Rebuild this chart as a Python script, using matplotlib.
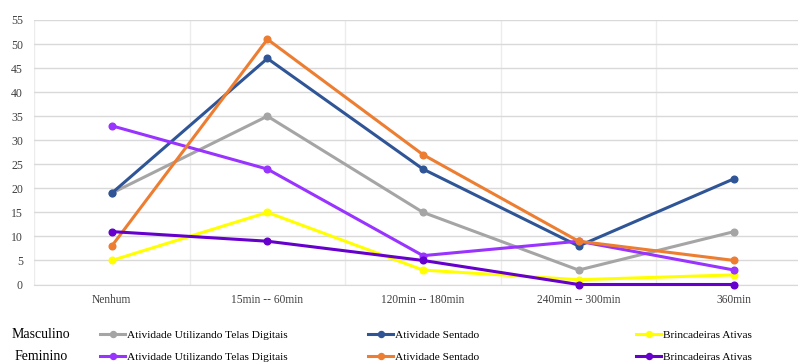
import matplotlib.pyplot as plt
import numpy as np
from matplotlib.ticker import MultipleLocator

plt.rcParams["font.family"] = ["Liberation Serif", "DejaVu Serif"]

CATEGORIES = ["Nenhum", "15min -- 60min", "120min -- 180min", "240min -- 300min", "360min"]

MASC_TELAS = [19, 35, 15, 3, 11]
MASC_SENTADO = [19, 47, 24, 8, 22]
MASC_BRINC = [5, 15, 3, 1, 2]
FEM_TELAS = [33, 24, 6, 9, 3]
FEM_SENTADO = [8, 51, 27, 9, 5]
FEM_BRINC = [11, 9, 5, 0, 0]

LABEL_TELAS = "Atividade Utilizando Telas Digitais"
LABEL_SENTADO = "Atividade Sentado"
LABEL_BRINC = "Brincadeiras Ativas"

W, H = 798, 363
fig = plt.figure(figsize=(W / 100, H / 100), dpi=100)
ax = fig.add_axes([34 / W, 1 - 284.5 / H, 778 / W, 264.5 / H])

x = np.arange(len(CATEGORIES))
series = [
    (MASC_TELAS, "#A5A5A5"),
    (MASC_SENTADO, "#2F5597"),
    (MASC_BRINC, "#FFFF00"),
    (FEM_TELAS, "#9933FF"),
    (FEM_SENTADO, "#ED7D31"),
    (FEM_BRINC, "#6600CC"),
]
lines = []
for vals, color in series:
    (ln,) = ax.plot(x, vals, color=color, lw=2.2, marker="o", ms=4.8,
                    clip_on=False, zorder=3)
    lines.append(ln)

ax.set_xlim(-0.5, len(CATEGORIES) - 0.5)
ax.set_ylim(0, 55)
ax.yaxis.set_major_locator(MultipleLocator(5))
ax.set_xticks(x, CATEGORIES)
ax.set_xticks(np.arange(len(CATEGORIES) + 1) - 0.5, minor=True)
ax.grid(axis="y", color="#d9d9d9", lw=1)
ax.grid(axis="x", which="minor", color="#ececec", lw=1)
ax.set_axisbelow(True)
for side in ["top", "right", "left"]:
    ax.spines[side].set_visible(False)
ax.spines["bottom"].set_color("#d9d9d9")
ax.tick_params(axis="both", which="both", length=0, colors="#404040")
ax.tick_params(axis="y", labelsize=8.5, pad=8)
ax.tick_params(axis="x", labelsize=8.3, pad=7)

# legend: one row per gender, three entries per row
rows = [("Masculino", lines[:3], 335), ("Feminino", lines[3:], 357)]
labels = [LABEL_TELAS, LABEL_SENTADO, LABEL_BRINC]
col_x = [100, 368, 636]
for title, handles, ypix in rows:
    fig.text(41 / W, 1 - ypix / H, title, ha="center", va="center",
             fontsize=10, color="#000000")
    for h, lab, cx in zip(handles, labels, col_x):
        fig.legend(handles=[h], labels=[lab], loc="center left",
                   bbox_to_anchor=(cx / W, 1 - ypix / H), frameon=False,
                   fontsize=8.2, handlelength=2.2, handletextpad=0.2,
                   borderpad=0, borderaxespad=0, markerscale=0.9)

fig.savefig("out.png", dpi=100)
